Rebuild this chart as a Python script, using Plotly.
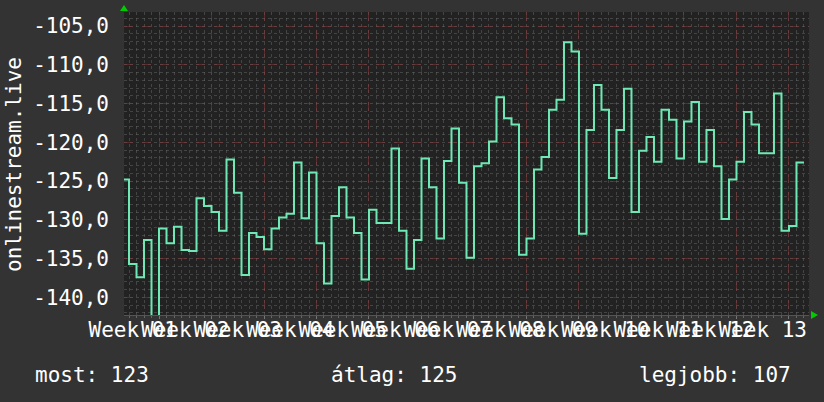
import plotly.graph_objects as go

# Daily values (one per day)
values = [
    -124.8, -135.7, -137.4, -132.6, -143.0, -131.1, -133.0, -130.9, -133.9, -134.0,
    -127.2, -128.2, -129.0, -131.4, -122.2, -126.5,
    -137.1, -131.7, -132.2, -133.8, -131.1, -129.7, -129.2, -122.6, -129.8, -123.9,
    -133.0, -138.2, -129.5, -125.8, -129.7,
    -131.7, -137.7, -128.7, -130.4, -130.4, -120.8, -131.4, -136.3, -132.6, -122.1,
    -125.8, -132.4, -122.4, -118.2, -125.2, -134.9,
    -123.1, -122.7, -119.9, -114.2, -116.9, -117.7, -134.5, -132.4, -123.5, -121.9,
    -115.8, -114.5, -107.1, -108.3, -131.8, -118.4,
    -112.6, -115.8, -124.6, -118.4, -113.1, -129.0, -121.1, -119.3, -122.5, -115.8,
    -117.1, -122.1, -117.3, -114.8, -122.5,
    -118.4, -123.1, -129.9, -124.8, -122.5, -116.1, -117.7, -121.4, -121.4, -113.7,
    -131.4, -130.8, -122.6,
]
days = list(range(len(values)))

week_labels = ["Week %02d" % i for i in range(1, 14)]
y_tick_values = [-140, -135, -130, -125, -120, -115, -110, -105]
y_tick_labels = ["-140,0", "-135,0", "-130,0", "-125,0", "-120,0", "-115,0", "-110,0", "-105,0"]

legend_labels = ["most: 123", "átlag: 125", "legjobb: 107"]

y_title = "onlinestream.live"

FONT = "DejaVu Sans Mono"
FS = 21
LINE = "#6ee9b5"
MAJOR_GRID = "rgba(140,55,55,0.5)"
MINOR_GRID = "rgba(120,120,120,0.4)"

x_step = days + [len(values)]
y_step = values + [values[-1]]

fig = go.Figure()
fig.add_trace(go.Scatter(
    x=x_step, y=y_step, mode="lines",
    line=dict(color=LINE, width=2, shape="hv"),
    showlegend=False, hoverinfo="skip",
))

week_bounds = [5 + 7 * k for k in range(13)]
week_mids = [1.5 + 7 * k for k in range(13)]

fig.update_layout(
    width=824, height=402,
    margin=dict(l=124, r=15, t=12, b=87),
    paper_bgcolor="#333333",
    plot_bgcolor="#222222",
    font=dict(family=FONT, size=FS, color="#ffffff"),
    xaxis=dict(
        range=[0.333, 91.67],
        tickmode="array", tickvals=week_bounds, showticklabels=False,
        showgrid=True, gridcolor=MAJOR_GRID, griddash="dash", gridwidth=1,
        ticks="outside", ticklen=3, tickcolor="#777777",
        minor=dict(tickmode="array", tickvals=list(range(1, 92)),
                   showgrid=True, gridcolor=MINOR_GRID, griddash="dot",
                   ticks="outside", ticklen=2, tickcolor="#666666"),
        zeroline=False, showline=True, linecolor="#555555", linewidth=1,
        fixedrange=True,
    ),
    xaxis2=dict(
        overlaying="x", matches="x", side="bottom",
        tickmode="array", tickvals=week_mids, ticktext=week_labels,
        tickangle=0,
        showgrid=False, ticks="", zeroline=False,
        tickfont=dict(family=FONT, size=FS, color="#ffffff"),
    ),
    yaxis=dict(
        range=[-142.27, -103.19],
        tickmode="array", tickvals=y_tick_values, ticktext=y_tick_labels,
        showgrid=True, gridcolor=MAJOR_GRID, griddash="dash", gridwidth=1,
        minor=dict(dtick=1, tick0=-140, showgrid=True,
                   gridcolor=MINOR_GRID, griddash="dot"),
        ticks="", zeroline=False, showline=False,
        ticklabelstandoff=14,
        tickfont=dict(family=FONT, size=FS, color="#ffffff"),
        fixedrange=True,
    ),
)

# invisible trace to activate xaxis2
fig.add_trace(go.Scatter(x=[days[0]], y=[values[0]], xaxis="x2", mode="markers",
                         marker=dict(opacity=0), showlegend=False, hoverinfo="skip"))

fig.add_annotation(text=y_title, textangle=-90, xref="paper", yref="paper",
                   x=(14 - 124) / 685, y=0.495, xanchor="center", yanchor="middle",
                   showarrow=False, font=dict(family=FONT, size=FS, color="#ffffff"))

leg_x = [33, 329, 637]
for lbl, px in zip(legend_labels, leg_x):
    fig.add_annotation(text=lbl, xref="paper", yref="paper",
                       x=(px - 124) / 685, y=(315 - 375) / 303,
                       xanchor="left", yanchor="middle", showarrow=False,
                       font=dict(family=FONT, size=FS, color="#ffffff"))

# green arrows
fig.add_shape(type="path", xref="paper", yref="paper", xsizemode="pixel", ysizemode="pixel",
              xanchor=0, yanchor=1, path="M -4,1 L 4,1 L 0,7 Z",
              fillcolor="#00cc00", line=dict(width=0))
fig.add_shape(type="path", xref="paper", yref="paper", xsizemode="pixel", ysizemode="pixel",
              xanchor=1, yanchor=0, path="M 2,-4 L 2,4 L 9,0 Z",
              fillcolor="#00cc00", line=dict(width=0))

fig.write_html(
    "out.html",
    config={"displayModeBar": False},
    post_script="document.body.style.margin='0';document.body.style.background='#333333';",
)
